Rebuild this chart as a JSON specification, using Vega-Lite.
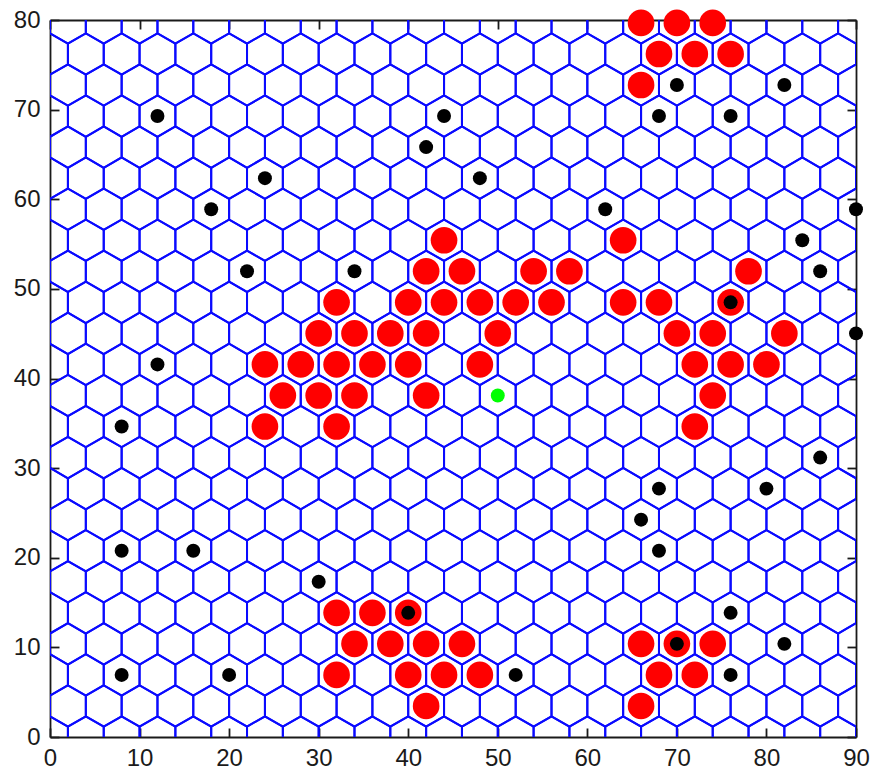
{
  "$schema": "https://vega.github.io/schema/vega-lite/v6.json",
  "width": 806,
  "height": 717,
  "autosize": {"type": "none"},
  "padding": {"left": 50, "top": 20, "right": 15, "bottom": 36},
  "background": "white",
  "config": {
    "view": {"stroke": null},
    "axis": {
      "grid": false,
      "domainColor": "#1a1a1a",
      "domainWidth": 1.8,
      "tickColor": "#1a1a1a",
      "tickWidth": 1.8,
      "tickSize": -9,
      "labelFont": "Liberation Sans",
      "labelFontSize": 24,
      "labelColor": "#1a1a1a",
      "labelFlush": false,
      "labelOverlap": false,
      "title": null
    }
  },
  "datasets": {
    "hex": [
      {"x":0,"y":0},{"x":4,"y":0},{"x":8,"y":0},{"x":12,"y":0},{"x":16,"y":0},{"x":20,"y":0},{"x":24,"y":0},{"x":28,"y":0},{"x":32,"y":0},{"x":36,"y":0},{"x":40,"y":0},{"x":44,"y":0},{"x":48,"y":0},{"x":52,"y":0},{"x":56,"y":0},{"x":60,"y":0},{"x":64,"y":0},{"x":68,"y":0},{"x":72,"y":0},{"x":76,"y":0},{"x":80,"y":0},{"x":84,"y":0},{"x":88,"y":0},
      {"x":2,"y":3.464},{"x":6,"y":3.464},{"x":10,"y":3.464},{"x":14,"y":3.464},{"x":18,"y":3.464},{"x":22,"y":3.464},{"x":26,"y":3.464},{"x":30,"y":3.464},{"x":34,"y":3.464},{"x":38,"y":3.464},{"x":42,"y":3.464},{"x":46,"y":3.464},{"x":50,"y":3.464},{"x":54,"y":3.464},{"x":58,"y":3.464},{"x":62,"y":3.464},{"x":66,"y":3.464},{"x":70,"y":3.464},{"x":74,"y":3.464},{"x":78,"y":3.464},{"x":82,"y":3.464},{"x":86,"y":3.464},{"x":90,"y":3.464},
      {"x":0,"y":6.928},{"x":4,"y":6.928},{"x":8,"y":6.928},{"x":12,"y":6.928},{"x":16,"y":6.928},{"x":20,"y":6.928},{"x":24,"y":6.928},{"x":28,"y":6.928},{"x":32,"y":6.928},{"x":36,"y":6.928},{"x":40,"y":6.928},{"x":44,"y":6.928},{"x":48,"y":6.928},{"x":52,"y":6.928},{"x":56,"y":6.928},{"x":60,"y":6.928},{"x":64,"y":6.928},{"x":68,"y":6.928},{"x":72,"y":6.928},{"x":76,"y":6.928},{"x":80,"y":6.928},{"x":84,"y":6.928},{"x":88,"y":6.928},
      {"x":2,"y":10.392},{"x":6,"y":10.392},{"x":10,"y":10.392},{"x":14,"y":10.392},{"x":18,"y":10.392},{"x":22,"y":10.392},{"x":26,"y":10.392},{"x":30,"y":10.392},{"x":34,"y":10.392},{"x":38,"y":10.392},{"x":42,"y":10.392},{"x":46,"y":10.392},{"x":50,"y":10.392},{"x":54,"y":10.392},{"x":58,"y":10.392},{"x":62,"y":10.392},{"x":66,"y":10.392},{"x":70,"y":10.392},{"x":74,"y":10.392},{"x":78,"y":10.392},{"x":82,"y":10.392},{"x":86,"y":10.392},{"x":90,"y":10.392},
      {"x":0,"y":13.856},{"x":4,"y":13.856},{"x":8,"y":13.856},{"x":12,"y":13.856},{"x":16,"y":13.856},{"x":20,"y":13.856},{"x":24,"y":13.856},{"x":28,"y":13.856},{"x":32,"y":13.856},{"x":36,"y":13.856},{"x":40,"y":13.856},{"x":44,"y":13.856},{"x":48,"y":13.856},{"x":52,"y":13.856},{"x":56,"y":13.856},{"x":60,"y":13.856},{"x":64,"y":13.856},{"x":68,"y":13.856},{"x":72,"y":13.856},{"x":76,"y":13.856},{"x":80,"y":13.856},{"x":84,"y":13.856},{"x":88,"y":13.856},
      {"x":2,"y":17.321},{"x":6,"y":17.321},{"x":10,"y":17.321},{"x":14,"y":17.321},{"x":18,"y":17.321},{"x":22,"y":17.321},{"x":26,"y":17.321},{"x":30,"y":17.321},{"x":34,"y":17.321},{"x":38,"y":17.321},{"x":42,"y":17.321},{"x":46,"y":17.321},{"x":50,"y":17.321},{"x":54,"y":17.321},{"x":58,"y":17.321},{"x":62,"y":17.321},{"x":66,"y":17.321},{"x":70,"y":17.321},{"x":74,"y":17.321},{"x":78,"y":17.321},{"x":82,"y":17.321},{"x":86,"y":17.321},{"x":90,"y":17.321},
      {"x":0,"y":20.785},{"x":4,"y":20.785},{"x":8,"y":20.785},{"x":12,"y":20.785},{"x":16,"y":20.785},{"x":20,"y":20.785},{"x":24,"y":20.785},{"x":28,"y":20.785},{"x":32,"y":20.785},{"x":36,"y":20.785},{"x":40,"y":20.785},{"x":44,"y":20.785},{"x":48,"y":20.785},{"x":52,"y":20.785},{"x":56,"y":20.785},{"x":60,"y":20.785},{"x":64,"y":20.785},{"x":68,"y":20.785},{"x":72,"y":20.785},{"x":76,"y":20.785},{"x":80,"y":20.785},{"x":84,"y":20.785},{"x":88,"y":20.785},
      {"x":2,"y":24.249},{"x":6,"y":24.249},{"x":10,"y":24.249},{"x":14,"y":24.249},{"x":18,"y":24.249},{"x":22,"y":24.249},{"x":26,"y":24.249},{"x":30,"y":24.249},{"x":34,"y":24.249},{"x":38,"y":24.249},{"x":42,"y":24.249},{"x":46,"y":24.249},{"x":50,"y":24.249},{"x":54,"y":24.249},{"x":58,"y":24.249},{"x":62,"y":24.249},{"x":66,"y":24.249},{"x":70,"y":24.249},{"x":74,"y":24.249},{"x":78,"y":24.249},{"x":82,"y":24.249},{"x":86,"y":24.249},{"x":90,"y":24.249},
      {"x":0,"y":27.713},{"x":4,"y":27.713},{"x":8,"y":27.713},{"x":12,"y":27.713},{"x":16,"y":27.713},{"x":20,"y":27.713},{"x":24,"y":27.713},{"x":28,"y":27.713},{"x":32,"y":27.713},{"x":36,"y":27.713},{"x":40,"y":27.713},{"x":44,"y":27.713},{"x":48,"y":27.713},{"x":52,"y":27.713},{"x":56,"y":27.713},{"x":60,"y":27.713},{"x":64,"y":27.713},{"x":68,"y":27.713},{"x":72,"y":27.713},{"x":76,"y":27.713},{"x":80,"y":27.713},{"x":84,"y":27.713},{"x":88,"y":27.713},
      {"x":2,"y":31.177},{"x":6,"y":31.177},{"x":10,"y":31.177},{"x":14,"y":31.177},{"x":18,"y":31.177},{"x":22,"y":31.177},{"x":26,"y":31.177},{"x":30,"y":31.177},{"x":34,"y":31.177},{"x":38,"y":31.177},{"x":42,"y":31.177},{"x":46,"y":31.177},{"x":50,"y":31.177},{"x":54,"y":31.177},{"x":58,"y":31.177},{"x":62,"y":31.177},{"x":66,"y":31.177},{"x":70,"y":31.177},{"x":74,"y":31.177},{"x":78,"y":31.177},{"x":82,"y":31.177},{"x":86,"y":31.177},{"x":90,"y":31.177},
      {"x":0,"y":34.641},{"x":4,"y":34.641},{"x":8,"y":34.641},{"x":12,"y":34.641},{"x":16,"y":34.641},{"x":20,"y":34.641},{"x":24,"y":34.641},{"x":28,"y":34.641},{"x":32,"y":34.641},{"x":36,"y":34.641},{"x":40,"y":34.641},{"x":44,"y":34.641},{"x":48,"y":34.641},{"x":52,"y":34.641},{"x":56,"y":34.641},{"x":60,"y":34.641},{"x":64,"y":34.641},{"x":68,"y":34.641},{"x":72,"y":34.641},{"x":76,"y":34.641},{"x":80,"y":34.641},{"x":84,"y":34.641},{"x":88,"y":34.641},
      {"x":2,"y":38.105},{"x":6,"y":38.105},{"x":10,"y":38.105},{"x":14,"y":38.105},{"x":18,"y":38.105},{"x":22,"y":38.105},{"x":26,"y":38.105},{"x":30,"y":38.105},{"x":34,"y":38.105},{"x":38,"y":38.105},{"x":42,"y":38.105},{"x":46,"y":38.105},{"x":50,"y":38.105},{"x":54,"y":38.105},{"x":58,"y":38.105},{"x":62,"y":38.105},{"x":66,"y":38.105},{"x":70,"y":38.105},{"x":74,"y":38.105},{"x":78,"y":38.105},{"x":82,"y":38.105},{"x":86,"y":38.105},{"x":90,"y":38.105},
      {"x":0,"y":41.569},{"x":4,"y":41.569},{"x":8,"y":41.569},{"x":12,"y":41.569},{"x":16,"y":41.569},{"x":20,"y":41.569},{"x":24,"y":41.569},{"x":28,"y":41.569},{"x":32,"y":41.569},{"x":36,"y":41.569},{"x":40,"y":41.569},{"x":44,"y":41.569},{"x":48,"y":41.569},{"x":52,"y":41.569},{"x":56,"y":41.569},{"x":60,"y":41.569},{"x":64,"y":41.569},{"x":68,"y":41.569},{"x":72,"y":41.569},{"x":76,"y":41.569},{"x":80,"y":41.569},{"x":84,"y":41.569},{"x":88,"y":41.569},
      {"x":2,"y":45.033},{"x":6,"y":45.033},{"x":10,"y":45.033},{"x":14,"y":45.033},{"x":18,"y":45.033},{"x":22,"y":45.033},{"x":26,"y":45.033},{"x":30,"y":45.033},{"x":34,"y":45.033},{"x":38,"y":45.033},{"x":42,"y":45.033},{"x":46,"y":45.033},{"x":50,"y":45.033},{"x":54,"y":45.033},{"x":58,"y":45.033},{"x":62,"y":45.033},{"x":66,"y":45.033},{"x":70,"y":45.033},{"x":74,"y":45.033},{"x":78,"y":45.033},{"x":82,"y":45.033},{"x":86,"y":45.033},{"x":90,"y":45.033},
      {"x":0,"y":48.497},{"x":4,"y":48.497},{"x":8,"y":48.497},{"x":12,"y":48.497},{"x":16,"y":48.497},{"x":20,"y":48.497},{"x":24,"y":48.497},{"x":28,"y":48.497},{"x":32,"y":48.497},{"x":36,"y":48.497},{"x":40,"y":48.497},{"x":44,"y":48.497},{"x":48,"y":48.497},{"x":52,"y":48.497},{"x":56,"y":48.497},{"x":60,"y":48.497},{"x":64,"y":48.497},{"x":68,"y":48.497},{"x":72,"y":48.497},{"x":76,"y":48.497},{"x":80,"y":48.497},{"x":84,"y":48.497},{"x":88,"y":48.497},
      {"x":2,"y":51.962},{"x":6,"y":51.962},{"x":10,"y":51.962},{"x":14,"y":51.962},{"x":18,"y":51.962},{"x":22,"y":51.962},{"x":26,"y":51.962},{"x":30,"y":51.962},{"x":34,"y":51.962},{"x":38,"y":51.962},{"x":42,"y":51.962},{"x":46,"y":51.962},{"x":50,"y":51.962},{"x":54,"y":51.962},{"x":58,"y":51.962},{"x":62,"y":51.962},{"x":66,"y":51.962},{"x":70,"y":51.962},{"x":74,"y":51.962},{"x":78,"y":51.962},{"x":82,"y":51.962},{"x":86,"y":51.962},{"x":90,"y":51.962},
      {"x":0,"y":55.426},{"x":4,"y":55.426},{"x":8,"y":55.426},{"x":12,"y":55.426},{"x":16,"y":55.426},{"x":20,"y":55.426},{"x":24,"y":55.426},{"x":28,"y":55.426},{"x":32,"y":55.426},{"x":36,"y":55.426},{"x":40,"y":55.426},{"x":44,"y":55.426},{"x":48,"y":55.426},{"x":52,"y":55.426},{"x":56,"y":55.426},{"x":60,"y":55.426},{"x":64,"y":55.426},{"x":68,"y":55.426},{"x":72,"y":55.426},{"x":76,"y":55.426},{"x":80,"y":55.426},{"x":84,"y":55.426},{"x":88,"y":55.426},
      {"x":2,"y":58.89},{"x":6,"y":58.89},{"x":10,"y":58.89},{"x":14,"y":58.89},{"x":18,"y":58.89},{"x":22,"y":58.89},{"x":26,"y":58.89},{"x":30,"y":58.89},{"x":34,"y":58.89},{"x":38,"y":58.89},{"x":42,"y":58.89},{"x":46,"y":58.89},{"x":50,"y":58.89},{"x":54,"y":58.89},{"x":58,"y":58.89},{"x":62,"y":58.89},{"x":66,"y":58.89},{"x":70,"y":58.89},{"x":74,"y":58.89},{"x":78,"y":58.89},{"x":82,"y":58.89},{"x":86,"y":58.89},{"x":90,"y":58.89},
      {"x":0,"y":62.354},{"x":4,"y":62.354},{"x":8,"y":62.354},{"x":12,"y":62.354},{"x":16,"y":62.354},{"x":20,"y":62.354},{"x":24,"y":62.354},{"x":28,"y":62.354},{"x":32,"y":62.354},{"x":36,"y":62.354},{"x":40,"y":62.354},{"x":44,"y":62.354},{"x":48,"y":62.354},{"x":52,"y":62.354},{"x":56,"y":62.354},{"x":60,"y":62.354},{"x":64,"y":62.354},{"x":68,"y":62.354},{"x":72,"y":62.354},{"x":76,"y":62.354},{"x":80,"y":62.354},{"x":84,"y":62.354},{"x":88,"y":62.354},
      {"x":2,"y":65.818},{"x":6,"y":65.818},{"x":10,"y":65.818},{"x":14,"y":65.818},{"x":18,"y":65.818},{"x":22,"y":65.818},{"x":26,"y":65.818},{"x":30,"y":65.818},{"x":34,"y":65.818},{"x":38,"y":65.818},{"x":42,"y":65.818},{"x":46,"y":65.818},{"x":50,"y":65.818},{"x":54,"y":65.818},{"x":58,"y":65.818},{"x":62,"y":65.818},{"x":66,"y":65.818},{"x":70,"y":65.818},{"x":74,"y":65.818},{"x":78,"y":65.818},{"x":82,"y":65.818},{"x":86,"y":65.818},{"x":90,"y":65.818},
      {"x":0,"y":69.282},{"x":4,"y":69.282},{"x":8,"y":69.282},{"x":12,"y":69.282},{"x":16,"y":69.282},{"x":20,"y":69.282},{"x":24,"y":69.282},{"x":28,"y":69.282},{"x":32,"y":69.282},{"x":36,"y":69.282},{"x":40,"y":69.282},{"x":44,"y":69.282},{"x":48,"y":69.282},{"x":52,"y":69.282},{"x":56,"y":69.282},{"x":60,"y":69.282},{"x":64,"y":69.282},{"x":68,"y":69.282},{"x":72,"y":69.282},{"x":76,"y":69.282},{"x":80,"y":69.282},{"x":84,"y":69.282},{"x":88,"y":69.282},
      {"x":2,"y":72.746},{"x":6,"y":72.746},{"x":10,"y":72.746},{"x":14,"y":72.746},{"x":18,"y":72.746},{"x":22,"y":72.746},{"x":26,"y":72.746},{"x":30,"y":72.746},{"x":34,"y":72.746},{"x":38,"y":72.746},{"x":42,"y":72.746},{"x":46,"y":72.746},{"x":50,"y":72.746},{"x":54,"y":72.746},{"x":58,"y":72.746},{"x":62,"y":72.746},{"x":66,"y":72.746},{"x":70,"y":72.746},{"x":74,"y":72.746},{"x":78,"y":72.746},{"x":82,"y":72.746},{"x":86,"y":72.746},{"x":90,"y":72.746},
      {"x":0,"y":76.21},{"x":4,"y":76.21},{"x":8,"y":76.21},{"x":12,"y":76.21},{"x":16,"y":76.21},{"x":20,"y":76.21},{"x":24,"y":76.21},{"x":28,"y":76.21},{"x":32,"y":76.21},{"x":36,"y":76.21},{"x":40,"y":76.21},{"x":44,"y":76.21},{"x":48,"y":76.21},{"x":52,"y":76.21},{"x":56,"y":76.21},{"x":60,"y":76.21},{"x":64,"y":76.21},{"x":68,"y":76.21},{"x":72,"y":76.21},{"x":76,"y":76.21},{"x":80,"y":76.21},{"x":84,"y":76.21},{"x":88,"y":76.21},
      {"x":2,"y":79.674},{"x":6,"y":79.674},{"x":10,"y":79.674},{"x":14,"y":79.674},{"x":18,"y":79.674},{"x":22,"y":79.674},{"x":26,"y":79.674},{"x":30,"y":79.674},{"x":34,"y":79.674},{"x":38,"y":79.674},{"x":42,"y":79.674},{"x":46,"y":79.674},{"x":50,"y":79.674},{"x":54,"y":79.674},{"x":58,"y":79.674},{"x":62,"y":79.674},{"x":66,"y":79.674},{"x":70,"y":79.674},{"x":74,"y":79.674},{"x":78,"y":79.674},{"x":82,"y":79.674},{"x":86,"y":79.674},{"x":90,"y":79.674}
    ],
    "occupied": [
      {"x":66,"y":79.674},{"x":70,"y":79.674},{"x":74,"y":79.674},
      {"x":68,"y":76.21},{"x":72,"y":76.21},{"x":76,"y":76.21},
      {"x":66,"y":72.746},
      {"x":44,"y":55.426},{"x":64,"y":55.426},
      {"x":42,"y":51.962},{"x":46,"y":51.962},{"x":54,"y":51.962},{"x":58,"y":51.962},{"x":78,"y":51.962},
      {"x":32,"y":48.497},{"x":40,"y":48.497},{"x":44,"y":48.497},{"x":48,"y":48.497},{"x":52,"y":48.497},{"x":56,"y":48.497},{"x":64,"y":48.497},{"x":68,"y":48.497},{"x":76,"y":48.497},
      {"x":30,"y":45.033},{"x":34,"y":45.033},{"x":38,"y":45.033},{"x":42,"y":45.033},{"x":50,"y":45.033},{"x":70,"y":45.033},{"x":74,"y":45.033},{"x":82,"y":45.033},
      {"x":24,"y":41.569},{"x":28,"y":41.569},{"x":32,"y":41.569},{"x":36,"y":41.569},{"x":40,"y":41.569},{"x":48,"y":41.569},{"x":72,"y":41.569},{"x":76,"y":41.569},{"x":80,"y":41.569},
      {"x":26,"y":38.105},{"x":30,"y":38.105},{"x":34,"y":38.105},{"x":42,"y":38.105},{"x":74,"y":38.105},
      {"x":24,"y":34.641},{"x":32,"y":34.641},{"x":72,"y":34.641},
      {"x":32,"y":13.856},{"x":36,"y":13.856},{"x":40,"y":13.856},
      {"x":34,"y":10.392},{"x":38,"y":10.392},{"x":42,"y":10.392},{"x":46,"y":10.392},{"x":66,"y":10.392},{"x":70,"y":10.392},{"x":74,"y":10.392},
      {"x":32,"y":6.928},{"x":40,"y":6.928},{"x":44,"y":6.928},{"x":48,"y":6.928},{"x":68,"y":6.928},{"x":72,"y":6.928},
      {"x":42,"y":3.464},{"x":66,"y":3.464}
    ],
    "agents": [
      {"x":70,"y":72.746},{"x":82,"y":72.746},
      {"x":12,"y":69.282},{"x":44,"y":69.282},{"x":68,"y":69.282},{"x":76,"y":69.282},
      {"x":42,"y":65.818},
      {"x":24,"y":62.354},{"x":48,"y":62.354},
      {"x":18,"y":58.89},{"x":62,"y":58.89},{"x":90,"y":58.89},
      {"x":84,"y":55.426},
      {"x":22,"y":51.962},{"x":34,"y":51.962},{"x":86,"y":51.962},
      {"x":76,"y":48.497},
      {"x":90,"y":45.033},
      {"x":12,"y":41.569},
      {"x":8,"y":34.641},
      {"x":86,"y":31.177},
      {"x":68,"y":27.713},{"x":80,"y":27.713},
      {"x":66,"y":24.249},
      {"x":8,"y":20.785},{"x":16,"y":20.785},{"x":68,"y":20.785},
      {"x":30,"y":17.321},
      {"x":40,"y":13.856},{"x":76,"y":13.856},
      {"x":70,"y":10.392},{"x":82,"y":10.392},
      {"x":8,"y":6.928},{"x":20,"y":6.928},{"x":52,"y":6.928},{"x":76,"y":6.928}
    ],
    "source": [
      {"x":50,"y":38.105}
    ]
  },
  "resolve": {"axis": {"x": "independent", "y": "independent"}},
  "layer": [
    {
      "data": {"name": "hex"},
      "mark": {
        "type": "point",
        "shape": "M0,-1L0.866,-0.5L0.866,0.5L0,1L-0.866,0.5L-0.866,-0.5Z",
        "size": 1712,
        "filled": false,
        "stroke": "#0a0aff",
        "strokeWidth": 2,
        "opacity": 1,
        "clip": true
      },
      "encoding": {
        "x": {
          "field": "x", "type": "quantitative",
          "scale": {"domain": [0, 90], "nice": false, "zero": false},
          "axis": {"orient": "bottom", "values": [0, 10, 20, 30, 40, 50, 60, 70, 80, 90], "labelPadding": 18}
        },
        "y": {
          "field": "y", "type": "quantitative",
          "scale": {"domain": [0, 80], "nice": false, "zero": false},
          "axis": {"orient": "left", "values": [0, 10, 20, 30, 40, 50, 60, 70, 80], "labelPadding": 19}
        }
      }
    },
    {
      "data": {"name": "occupied"},
      "mark": {"type": "circle", "size": 710, "color": "#ff0000", "opacity": 1},
      "encoding": {
        "x": {
          "field": "x", "type": "quantitative",
          "scale": {"domain": [0, 90], "nice": false, "zero": false},
          "axis": {"orient": "top", "values": [0, 10, 20, 30, 40, 50, 60, 70, 80, 90], "labels": false}
        },
        "y": {
          "field": "y", "type": "quantitative",
          "scale": {"domain": [0, 80], "nice": false, "zero": false},
          "axis": {"orient": "right", "values": [0, 10, 20, 30, 40, 50, 60, 70, 80], "labels": false}
        }
      }
    },
    {
      "data": {"name": "agents"},
      "mark": {"type": "circle", "size": 195, "color": "#000000", "opacity": 1},
      "encoding": {
        "x": {"field": "x", "type": "quantitative", "scale": {"domain": [0, 90], "nice": false, "zero": false}, "axis": null},
        "y": {"field": "y", "type": "quantitative", "scale": {"domain": [0, 80], "nice": false, "zero": false}, "axis": null}
      }
    },
    {
      "data": {"name": "source"},
      "mark": {"type": "circle", "size": 195, "color": "#00ff00", "opacity": 1},
      "encoding": {
        "x": {"field": "x", "type": "quantitative", "scale": {"domain": [0, 90], "nice": false, "zero": false}, "axis": null},
        "y": {"field": "y", "type": "quantitative", "scale": {"domain": [0, 80], "nice": false, "zero": false}, "axis": null}
      }
    }
  ]
}
